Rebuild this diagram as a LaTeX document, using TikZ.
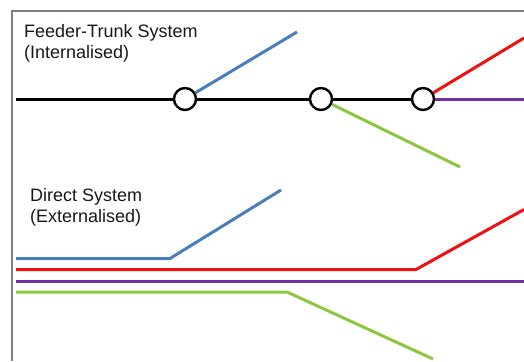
\documentclass[tikz,border=0pt]{standalone}
\usepackage{fontspec}
\setmainfont{Liberation Sans}
\definecolor{frameGray}{HTML}{808080}
\definecolor{lineBlue}{HTML}{4A7EBB}
\definecolor{lineRed}{HTML}{EE1111}
\definecolor{linePurple}{HTML}{7030A0}
\definecolor{lineGreen}{HTML}{8DC641}
\tikzset{
  stop/.style={circle, draw=black, line width=2.4pt, fill=white, minimum size=22pt, inner sep=0pt},
  route/.style={line width=3pt, line cap=butt, line join=miter},
  label/.style={anchor=base west, inner sep=0pt, font=\fontsize{18}{21}\selectfont, text=black!90},
}
\begin{document}
\begin{tikzpicture}[x=1pt,y=-1pt]
  \useasboundingbox (0,0) rectangle (524,361);
  \fill[white] (0,0) rectangle (524,361);

  % frame (top and left edges)
  \draw[frameGray, line width=2pt] (524,11) -- (11.5,11) -- (11.5,361);

  % ---------- Feeder-Trunk system ----------
  \node[label] (ftA) at (24,37.5) {Feeder-Trunk System};
  \node[label] (ftB) at (24,58.5) {(Internalised)};

  \coordinate (trunkStart) at (16,99);
  \coordinate (trunkEnd) at (524,99);
  \node[stop] (s1) at (185,99) {};
  \node[stop] (s2) at (321,99) {};
  \node[stop] (s3) at (423,99) {};
  \coordinate (blueEnd) at (297,32);
  \coordinate (greenEnd) at (460,167);
  \coordinate (redEnd) at (524,38);

  \draw[route, black] (trunkStart) -- (s1);
  \draw[route, black] (s1) -- (s2);
  \draw[route, black] (s2) -- (s3);
  \draw[route, linePurple] (s3) -- (trunkEnd);
  \draw[route, lineBlue] (s1) -- (blueEnd);
  \draw[route, lineGreen] (s2) -- (greenEnd);
  \draw[route, lineRed] (s3) -- (redEnd);

  % ---------- Direct system ----------
  \node[label] (dsA) at (30,201.5) {Direct System};
  \node[label] (dsB) at (30,222) {(Externalised)};

  \coordinate (bA) at (16,258.5);
  \coordinate (bB) at (170,258.5);
  \coordinate (bC) at (281,190);
  \coordinate (rA) at (16,269.5);
  \coordinate (rB) at (416,269.5);
  \coordinate (rC) at (524,209.5);
  \coordinate (pA) at (16,281);
  \coordinate (pB) at (524,281);
  \coordinate (gA) at (16,292);
  \coordinate (gB) at (287,292);
  \coordinate (gC) at (433,359);

  \draw[route, lineBlue] (bA) -- (bB) -- (bC);
  \draw[route, lineRed] (rA) -- (rB) -- (rC);
  \draw[route, linePurple] (pA) -- (pB);
  \draw[route, lineGreen] (gA) -- (gB) -- (gC);
\end{tikzpicture}
\end{document}
